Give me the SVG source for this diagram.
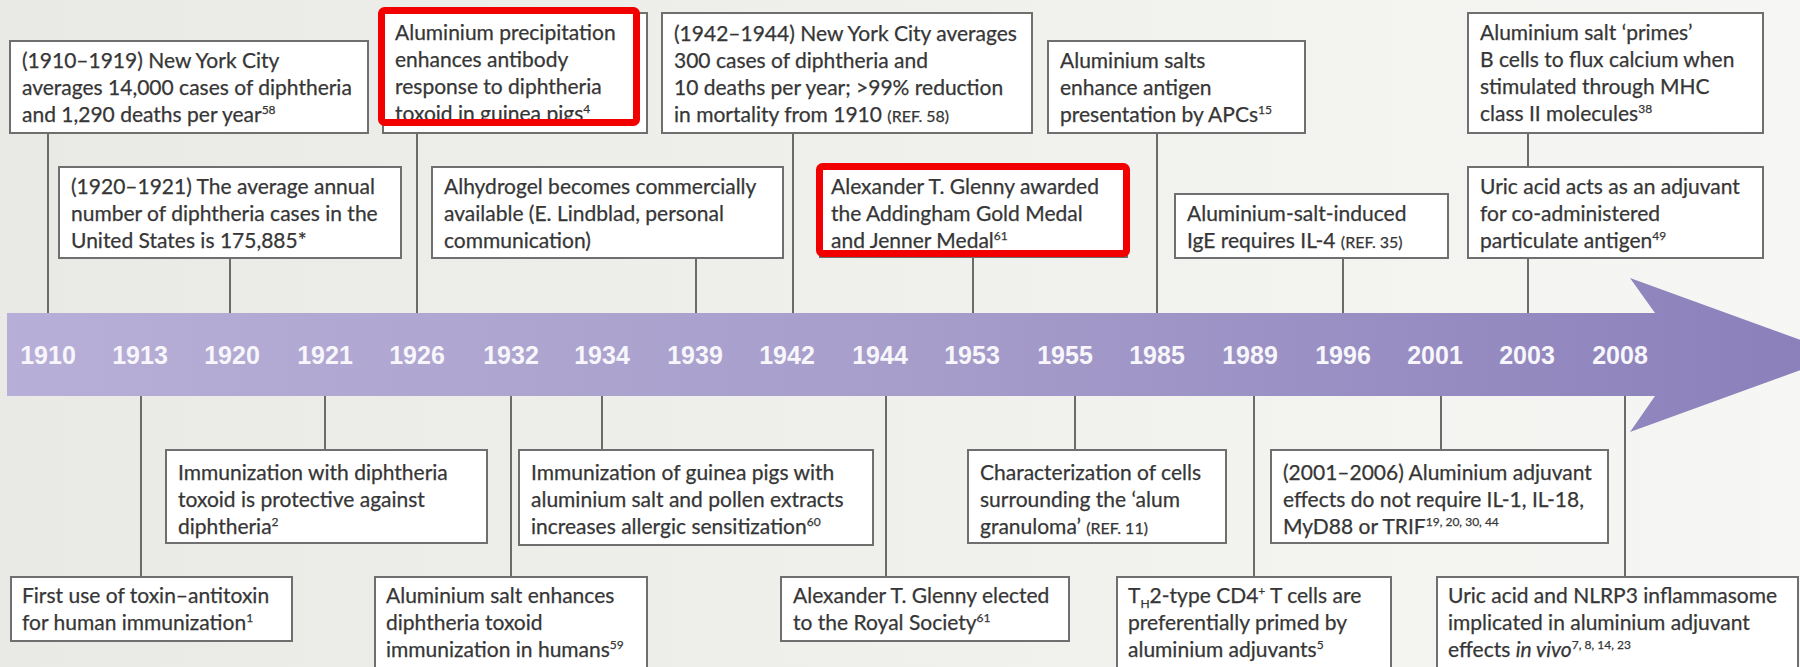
<svg xmlns="http://www.w3.org/2000/svg" width="1800" height="667" viewBox="0 0 1800 667">
<defs>
<linearGradient id="bg" x1="0" y1="0" x2="1" y2="0">
<stop offset="0" stop-color="#e9e9e5"/>
<stop offset="1" stop-color="#f6f6f4"/>
</linearGradient>
<linearGradient id="barg" x1="0" y1="0" x2="1" y2="0">
<stop offset="0" stop-color="#b7afd7"/>
<stop offset="0.5" stop-color="#a69dcb"/>
<stop offset="1" stop-color="#8a7fba"/>
</linearGradient>
<style>
.box{fill:#ffffff;stroke:#6f6f6f;stroke-width:2}
.t{font-family:Lato,"Liberation Sans",sans-serif;font-size:21px;fill:#363636;stroke:#363636;stroke-width:0.25}
.sup{font-size:12px}
.ref{font-size:16px}
.conn line{stroke:#6b6b6b;stroke-width:2}
.yr{font-family:"Liberation Sans",Arial,sans-serif;font-weight:bold;font-size:25px;fill:#f7f6fb;text-anchor:middle}
.hl{fill:none;stroke:#f20000;stroke-width:7}
</style>
</defs>
<rect x="0" y="0" width="1800" height="667" fill="url(#bg)"/>

<g id="connectors" class="conn">
<line x1="48" y1="133" x2="48" y2="314"/>
<line x1="230" y1="258" x2="230" y2="314"/>
<line x1="417" y1="133" x2="417" y2="314"/>
<line x1="696" y1="258" x2="696" y2="314"/>
<line x1="793" y1="133" x2="793" y2="314"/>
<line x1="973" y1="257" x2="973" y2="314"/>
<line x1="1157" y1="133" x2="1157" y2="314"/>
<line x1="1343" y1="258" x2="1343" y2="314"/>
<line x1="1528" y1="133" x2="1528" y2="314"/>
<line x1="141" y1="396" x2="141" y2="577"/>
<line x1="325" y1="396" x2="325" y2="450"/>
<line x1="511" y1="396" x2="511" y2="577"/>
<line x1="602" y1="396" x2="602" y2="450"/>
<line x1="886" y1="396" x2="886" y2="577"/>
<line x1="1075" y1="396" x2="1075" y2="450"/>
<line x1="1254" y1="396" x2="1254" y2="577"/>
<line x1="1441" y1="396" x2="1441" y2="450"/>
<line x1="1625" y1="396" x2="1625" y2="577"/>
</g>

<g id="timeline">
<polygon points="7,313 1655,313 1630,278 1842,355 1630,432 1655,396 7,396" fill="url(#barg)"/>
<text class="yr" x="48" y="364">1910</text>
<text class="yr" x="140" y="364">1913</text>
<text class="yr" x="232" y="364">1920</text>
<text class="yr" x="325" y="364">1921</text>
<text class="yr" x="417" y="364">1926</text>
<text class="yr" x="511" y="364">1932</text>
<text class="yr" x="602" y="364">1934</text>
<text class="yr" x="695" y="364">1939</text>
<text class="yr" x="787" y="364">1942</text>
<text class="yr" x="880" y="364">1944</text>
<text class="yr" x="972" y="364">1953</text>
<text class="yr" x="1065" y="364">1955</text>
<text class="yr" x="1157" y="364">1985</text>
<text class="yr" x="1250" y="364">1989</text>
<text class="yr" x="1343" y="364">1996</text>
<text class="yr" x="1435" y="364">2001</text>
<text class="yr" x="1527" y="364">2003</text>
<text class="yr" x="1620" y="364">2008</text>
</g>

<g id="n1910">
<rect class="box" x="10" y="41" width="358" height="92"/>
<text class="t" x="22" y="68">(1910–1919) New York City</text>
<text class="t" x="22" y="95">averages 14,000 cases of diphtheria</text>
<text class="t" x="22" y="122">and 1,290 deaths per year<tspan class="sup" dy="-8">58</tspan></text>
</g>

<g id="n1926">
<rect class="box" x="383" y="13" width="264" height="120"/>
<text class="t" x="395" y="40">Aluminium precipitation</text>
<text class="t" x="395" y="67">enhances antibody</text>
<text class="t" x="395" y="94">response to diphtheria</text>
<text class="t" x="395" y="121">toxoid in guinea pigs<tspan class="sup" dy="-8">4</tspan></text>
<rect class="hl" x="381.5" y="10.5" width="255" height="112" rx="3"/>
</g>

<g id="n1942">
<rect class="box" x="662" y="13" width="370" height="120"/>
<text class="t" x="674" y="41">(1942–1944) New York City averages</text>
<text class="t" x="674" y="68">300 cases of diphtheria and</text>
<text class="t" x="674" y="95">10 deaths per year; &gt;99% reduction</text>
<text class="t" x="674" y="122">in mortality from 1910 <tspan class="ref">(REF. 58)</tspan></text>
</g>

<g id="n1985">
<rect class="box" x="1048" y="41" width="257" height="92"/>
<text class="t" x="1060" y="68">Aluminium salts</text>
<text class="t" x="1060" y="95">enhance antigen</text>
<text class="t" x="1060" y="122">presentation by APCs<tspan class="sup" dy="-8">15</tspan></text>
</g>

<g id="n2003a">
<rect class="box" x="1468" y="13" width="295" height="120"/>
<text class="t" x="1480" y="40">Aluminium salt ‘primes’</text>
<text class="t" x="1480" y="67">B cells to flux calcium when</text>
<text class="t" x="1480" y="94">stimulated through MHC</text>
<text class="t" x="1480" y="121">class II molecules<tspan class="sup" dy="-8">38</tspan></text>
</g>

<g id="n1920">
<rect class="box" x="59" y="167" width="342" height="91"/>
<text class="t" x="71" y="194">(1920–1921) The average annual</text>
<text class="t" x="71" y="221">number of diphtheria cases in the</text>
<text class="t" x="71" y="248">United States is 175,885*</text>
</g>

<g id="n1939">
<rect class="box" x="432" y="167" width="351" height="91"/>
<text class="t" x="444" y="194">Alhydrogel becomes commercially</text>
<text class="t" x="444" y="221">available (E. Lindblad, personal</text>
<text class="t" x="444" y="248">communication)</text>
</g>

<g id="n1953">
<rect class="box" x="820" y="167" width="307" height="90"/>
<text class="t" x="831" y="194">Alexander T. Glenny awarded</text>
<text class="t" x="831" y="221">the Addingham Gold Medal</text>
<text class="t" x="831" y="248">and Jenner Medal<tspan class="sup" dy="-8">61</tspan></text>
<rect class="hl" x="819.5" y="166.5" width="307" height="87" rx="3"/>
</g>

<g id="n1996">
<rect class="box" x="1175" y="194" width="273" height="64"/>
<text class="t" x="1187" y="221">Aluminium-salt-induced</text>
<text class="t" x="1187" y="248">IgE requires IL-4 <tspan class="ref">(REF. 35)</tspan></text>
</g>

<g id="n2003b">
<rect class="box" x="1468" y="167" width="295" height="91"/>
<text class="t" x="1480" y="194">Uric acid acts as an adjuvant</text>
<text class="t" x="1480" y="221">for co-administered</text>
<text class="t" x="1480" y="248">particulate antigen<tspan class="sup" dy="-8">49</tspan></text>
</g>

<g id="n1921">
<rect class="box" x="166" y="450" width="321" height="93"/>
<text class="t" x="178" y="480">Immunization with diphtheria</text>
<text class="t" x="178" y="507">toxoid is protective against</text>
<text class="t" x="178" y="534">diphtheria<tspan class="sup" dy="-8">2</tspan></text>
</g>

<g id="n1934">
<rect class="box" x="519" y="450" width="354" height="95"/>
<text class="t" x="531" y="480">Immunization of guinea pigs with</text>
<text class="t" x="531" y="507">aluminium salt and pollen extracts</text>
<text class="t" x="531" y="534">increases allergic sensitization<tspan class="sup" dy="-8">60</tspan></text>
</g>

<g id="n1955">
<rect class="box" x="968" y="450" width="258" height="93"/>
<text class="t" x="980" y="480">Characterization of cells</text>
<text class="t" x="980" y="507">surrounding the ‘alum</text>
<text class="t" x="980" y="534">granuloma’ <tspan class="ref">(REF. 11)</tspan></text>
</g>

<g id="n2001">
<rect class="box" x="1271" y="450" width="337" height="93"/>
<text class="t" x="1283" y="480">(2001–2006) Aluminium adjuvant</text>
<text class="t" x="1283" y="507">effects do not require IL-1, IL-18,</text>
<text class="t" x="1283" y="534">MyD88 or TRIF<tspan class="sup" dy="-8">19, 20, 30, 44</tspan></text>
</g>

<g id="n1913">
<rect class="box" x="11" y="577" width="281" height="64"/>
<text class="t" x="22" y="603">First use of toxin–antitoxin</text>
<text class="t" x="22" y="630">for human immunization<tspan class="sup" dy="-8">1</tspan></text>
</g>

<g id="n1932">
<rect class="box" x="375" y="577" width="272" height="92"/>
<text class="t" x="386" y="603">Aluminium salt enhances</text>
<text class="t" x="386" y="630">diphtheria toxoid</text>
<text class="t" x="386" y="657">immunization in humans<tspan class="sup" dy="-8">59</tspan></text>
</g>

<g id="n1944">
<rect class="box" x="781" y="577" width="288" height="64"/>
<text class="t" x="793" y="603">Alexander T. Glenny elected</text>
<text class="t" x="793" y="630">to the Royal Society<tspan class="sup" dy="-8">61</tspan></text>
</g>

<g id="n1989">
<rect class="box" x="1117" y="577" width="274" height="92"/>
<text class="t" x="1128" y="603">T<tspan class="sup" dy="5">H</tspan><tspan dy="-5">2-type CD4</tspan><tspan class="sup" dy="-8">+</tspan><tspan dy="8"> T cells are</tspan></text>
<text class="t" x="1128" y="630">preferentially primed by</text>
<text class="t" x="1128" y="657">aluminium adjuvants<tspan class="sup" dy="-8">5</tspan></text>
</g>

<g id="n2008">
<rect class="box" x="1437" y="577" width="361" height="92"/>
<text class="t" x="1448" y="603">Uric acid and NLRP3 inflammasome</text>
<text class="t" x="1448" y="630">implicated in aluminium adjuvant</text>
<text class="t" x="1448" y="657">effects <tspan font-style="italic">in vivo</tspan><tspan class="sup" dy="-8">7, 8, 14, 23</tspan></text>
</g>
</svg>
